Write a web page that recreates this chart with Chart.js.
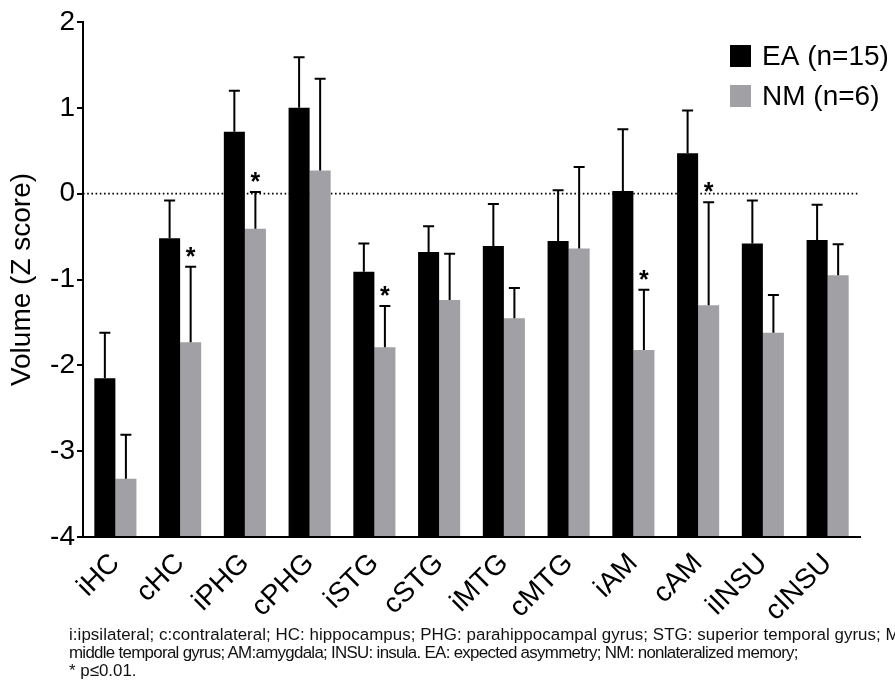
<!DOCTYPE html>
<html>
<head>
<meta charset="utf-8">
<script src="https://cdn.jsdelivr.net/npm/chart.js@4.4.1/dist/chart.umd.min.js"></script>
<style>
  html, body { margin: 0; padding: 0; background: #fff; }
  #wrap { position: relative; width: 895px; height: 689px; overflow: hidden; }
  #c { position: absolute; left: 0; top: 0; }
  #caption {
    position: absolute; left: 69px; top: 626px; width: 1000px;
    font-family: "Liberation Sans", Arial, sans-serif;
    font-size: 16.9px; line-height: 18px; color: #111; white-space: nowrap;
  }
  #caption div { height: 18px; }
  #caption .l1 { letter-spacing: 0.06px; }
  #caption .l2 { letter-spacing: -0.7px; }
</style>
</head>
<body>
<div id="wrap">
  <canvas id="c" width="895" height="689"></canvas>
  <div id="caption"><div class="l1">i:ipsilateral; c:contralateral; HC: hippocampus; PHG: parahippocampal gyrus; STG: superior temporal gyrus; MTG:</div><div class="l2">middle temporal gyrus; AM:amygdala; INSU: insula. EA: expected asymmetry; NM: nonlateralized memory;</div><div class="l3">* p≤0.01.</div></div>
</div>
<script>
const categories = ["iHC","cHC","iPHG","cPHG","iSTG","cSTG","iMTG","cMTG","iAM","cAM","iINSU","cINSU"];
const eaLabel = "EA (n=15)";
const nmLabel = "NM (n=6)";
const eaMean = [-2.15, -0.52, 0.72, 1.00, -0.91, -0.68, -0.61, -0.55, 0.03, 0.47, -0.58, -0.54];
const eaErrTop = [-1.62, -0.08, 1.20, 1.59, -0.58, -0.38, -0.12, 0.04, 0.75, 0.97, -0.08, -0.13];
const nmMean = [-3.32, -1.73, -0.41, 0.27, -1.79, -1.24, -1.45, -0.64, -1.82, -1.30, -1.62, -0.95];
const nmErrTop = [-2.81, -0.85, 0.02, 1.34, -1.31, -0.70, -1.10, 0.31, -1.12, -0.10, -1.18, -0.59];
const nmSignificant = [false, true, true, false, true, false, false, false, true, true, false, false];
const yTicks = [-4, -3, -2, -1, 0, 1, 2];

const FONT = '"Liberation Sans", Arial, Helvetica, sans-serif';
const BLACK = '#000000';
const GRAY = '#a1a1a5';

const errorBarPlugin = {
  id: 'errorBars',
  afterDatasetsDraw(chart) {
    const ctx = chart.ctx;
    const y = chart.scales.y;
    const errs = [eaErrTop, nmErrTop];
    ctx.save();
    ctx.strokeStyle = '#000';
    ctx.lineWidth = 2;
    chart.data.datasets.forEach((ds, di) => {
      const meta = chart.getDatasetMeta(di);
      meta.data.forEach((bar, i) => {
        const x = bar.x;
        const yTop = y.getPixelForValue(errs[di][i]);
        const yBase = y.getPixelForValue(ds.data[i]);
        ctx.beginPath();
        ctx.moveTo(x, yBase);
        ctx.lineTo(x, yTop);
        ctx.moveTo(x - 5.5, yTop);
        ctx.lineTo(x + 5.5, yTop);
        ctx.stroke();
        if (di === 1 && nmSignificant[i]) {
          ctx.fillStyle = '#000';
          ctx.font = 'bold 25px ' + FONT;
          ctx.textAlign = 'center';
          ctx.textBaseline = 'middle';
          ctx.fillText('*', x, yTop - 9);
        }
      });
    });
    ctx.restore();
  }
};

const zeroLinePlugin = {
  id: 'zeroLine',
  beforeDatasetsDraw(chart) {
    const ctx = chart.ctx;
    const y0 = chart.scales.y.getPixelForValue(0);
    const a = chart.chartArea;
    ctx.save();
    ctx.strokeStyle = '#000';
    ctx.lineWidth = 1.6;
    ctx.setLineDash([1.6, 2.6]);
    ctx.beginPath();
    ctx.moveTo(a.left, y0);
    ctx.lineTo(a.right, y0);
    ctx.stroke();
    ctx.restore();
  }
};

const legendPlugin = {
  id: 'customLegend',
  afterDraw(chart) {
    const ctx = chart.ctx;
    const a = chart.chartArea;
    const x0 = a.right - 130;
    const items = chart.data.datasets.map(d => ({ label: d.label, color: d.backgroundColor }));
    ctx.save();
    ctx.font = '28px ' + FONT;
    ctx.textBaseline = 'middle';
    ctx.textAlign = 'left';
    items.forEach((it, k) => {
      const cy = 56 + k * 40;
      ctx.fillStyle = it.color;
      ctx.fillRect(x0, cy - 11, 21, 22);
      ctx.fillStyle = '#000';
      ctx.fillText(it.label, x0 + 32, cy + 1);
    });
    ctx.restore();
  }
};

new Chart(document.getElementById('c'), {
  type: 'bar',
  data: {
    labels: categories,
    datasets: [
      { label: eaLabel, data: eaMean, backgroundColor: BLACK, borderWidth: 0 },
      { label: nmLabel, data: nmMean, backgroundColor: GRAY, borderWidth: 0 }
    ]
  },
  options: {
    responsive: false,
    animation: false,
    devicePixelRatio: 1,
    layout: { padding: { left: 0, right: 35, top: 22, bottom: 0 } },
    plugins: { legend: { display: false }, tooltip: { enabled: false } },
    datasets: { bar: { categoryPercentage: 0.65, barPercentage: 1.0, base: -4 } },
    scales: {
      x: {
        grid: { display: false },
        border: { display: true, color: '#000', width: 2 },
        ticks: {
          color: '#000', font: { family: FONT, size: 28 },
          maxRotation: 45, minRotation: 45, padding: 2, autoSkip: false
        },
        afterFit(scale) { scale.height = 152; }
      },
      y: {
        min: -4, max: 2,
        afterBuildTicks(scale) { scale.ticks = yTicks.map(v => ({ value: v })); },
        grid: { drawOnChartArea: false, drawTicks: true, tickLength: 6, color: '#000', lineWidth: 2 },
        border: { display: true, color: '#000', width: 2 },
        ticks: { color: '#000', font: { family: FONT, size: 28 }, padding: 2 },
        title: {
          display: true, text: 'Volume (Z score)', color: '#000',
          font: { family: FONT, size: 28 }, padding: { top: 5, bottom: 0 }
        },
        afterFit(scale) { scale.width = 83; }
      }
    }
  },
  plugins: [zeroLinePlugin, errorBarPlugin, legendPlugin]
});
</script>
</body>
</html>
